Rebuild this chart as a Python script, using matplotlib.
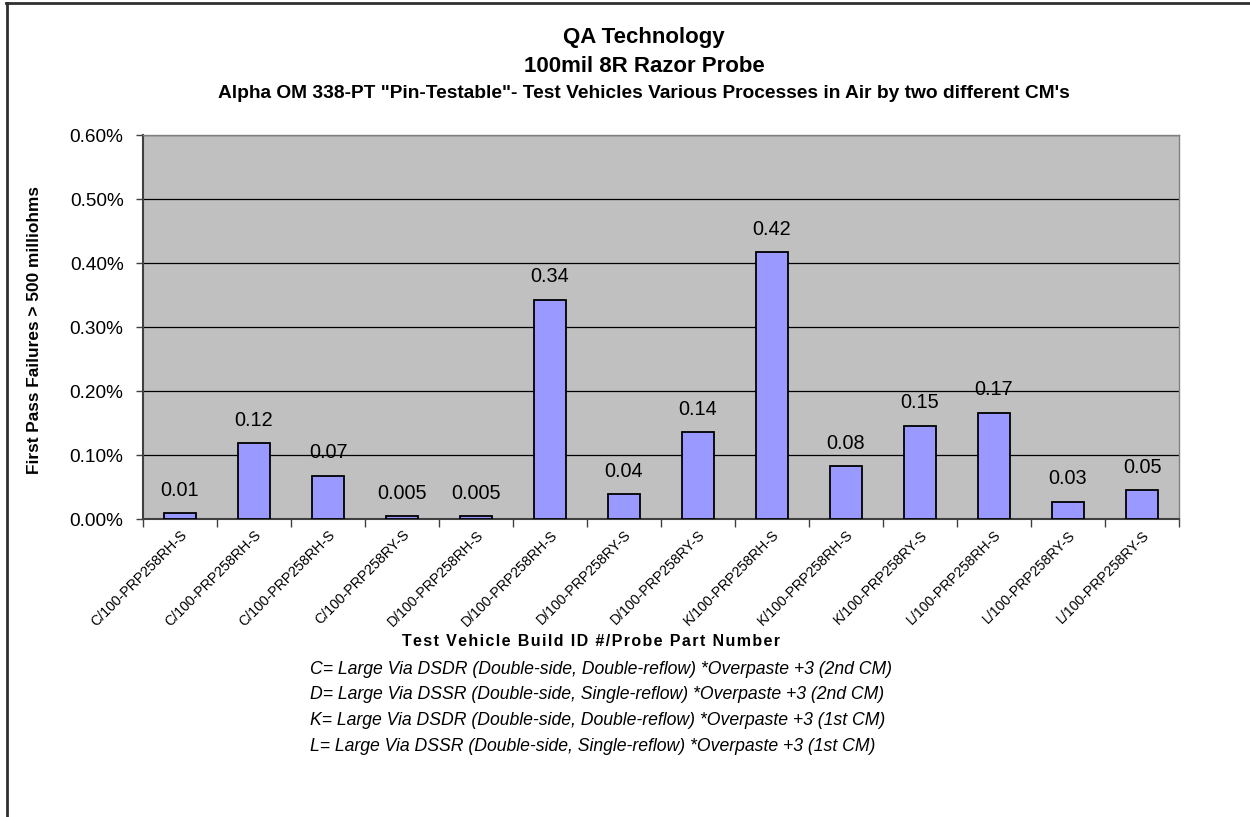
import matplotlib
matplotlib.use("Agg")
import matplotlib.pyplot as plt
from matplotlib.lines import Line2D
from matplotlib.ticker import FuncFormatter, FixedLocator

categories = ["C/100-PRP258RH-S", "C/100-PRP258RH-S", "C/100-PRP258RH-S", "C/100-PRP258RY-S",
              "D/100-PRP258RH-S", "D/100-PRP258RH-S", "D/100-PRP258RY-S", "D/100-PRP258RY-S",
              "K/100-PRP258RH-S", "K/100-PRP258RH-S", "K/100-PRP258RY-S", "L/100-PRP258RH-S",
              "L/100-PRP258RY-S", "L/100-PRP258RY-S"]
values = [0.0098, 0.119, 0.068, 0.0047, 0.0047, 0.343, 0.0395, 0.136, 0.4166, 0.083,
          0.146, 0.1666, 0.0275, 0.045]
value_labels = ["0.01", "0.12", "0.07", "0.005", "0.005", "0.34", "0.04", "0.14", "0.42",
                "0.08", "0.15", "0.17", "0.03", "0.05"]
y_ticks = [0.0, 0.1, 0.2, 0.3, 0.4, 0.5, 0.6]
legend_lines = [
    "C= Large Via DSDR (Double-side, Double-reflow) *Overpaste +3 (2nd CM)",
    "D= Large Via DSSR (Double-side, Single-reflow) *Overpaste +3 (2nd CM)",
    "K= Large Via DSDR (Double-side, Double-reflow) *Overpaste +3 (1st CM)",
    "L= Large Via DSSR (Double-side, Single-reflow) *Overpaste +3 (1st CM)",
]

plt.rcParams['font.family'] = ['Liberation Sans', 'DejaVu Sans']

fig = plt.figure(figsize=(12.5, 8.17), dpi=100)
ax = fig.add_axes([143/1250, 1-519.3/817, (1179-143)/1250, (519.3-135)/817])
ax.set_facecolor('#C0C0C0')

x = list(range(len(categories)))
ax.bar(x, values, width=0.43, color='#9999FF', edgecolor='black', linewidth=1.3, zorder=3)
for xi, v, lab in zip(x, values, value_labels):
    ax.annotate(lab, (xi, v), xytext=(0, 16.5), textcoords='offset points',
                ha='center', va='center', fontsize=14.3, color='black', zorder=4)

ax.set_xlim(-0.5, len(categories) - 0.5)
ax.set_ylim(0, 0.6)
ax.set_yticks(y_ticks)
ax.yaxis.set_major_formatter(FuncFormatter(lambda v, p: f"{v:.2f}%"))
ax.tick_params(axis='y', direction='out', length=5, width=1, color='#404040',
               labelsize=13.7, pad=9)
ax.grid(axis='y', color='black', linewidth=0.9, zorder=1)
ax.set_axisbelow(True)

ax.set_xticks(x)
ax.set_xticklabels(categories, rotation=45, ha='right', rotation_mode='anchor', fontsize=10.2)
ax.tick_params(axis='x', which='major', length=0, pad=6)
ax.xaxis.set_minor_locator(FixedLocator([i - 0.5 for i in range(len(categories) + 1)]))
ax.tick_params(axis='x', which='minor', direction='out', length=6, width=1, color='#404040')

for s in ['top', 'right']:
    ax.spines[s].set_color('#808080')
    ax.spines[s].set_linewidth(1)
for s in ['left', 'bottom']:
    ax.spines[s].set_color('#404040')
    ax.spines[s].set_linewidth(1.5)

cx = 644/1250
fig.text(cx, 1-37/817, "QA Technology", ha='center', va='center',
         fontsize=16, fontweight='bold')
fig.text(cx, 1-67/817, "100mil 8R Razor Probe", ha='center', va='center',
         fontsize=16, fontweight='bold')
fig.text(cx, 1-93/817,
         "Alpha OM 338-PT \"Pin-Testable\"- Test Vehicles Various Processes in Air by two different CM's",
         ha='center', va='center', fontsize=13.8, fontweight='bold')

fig.text(35/1250, 1-330/817, "First Pass Failures > 500 milliohms", rotation=90,
         ha='center', va='center', fontsize=12.4, fontweight='bold')
xtitle = "Test Vehicle Build ID #/Probe Part Number"
fig.text(591/1250, 1-642/817, "\u200a".join(xtitle),
         ha='center', va='center', fontsize=11.5, fontweight='bold')

for i, line in enumerate(legend_lines):
    fig.text(310/1250, 1-(669 + 25.7*i)/817, line, ha='left', va='center',
             fontsize=12.7, fontstyle='italic')

fig.add_artist(Line2D([6/1250, 1], [1-3/817, 1-3/817], color='#303030', linewidth=2,
                      transform=fig.transFigure))
fig.add_artist(Line2D([7/1250, 7/1250], [0, 1-3/817], color='#303030', linewidth=2,
                      transform=fig.transFigure))

fig.savefig("out.png", dpi=100, facecolor='white')
